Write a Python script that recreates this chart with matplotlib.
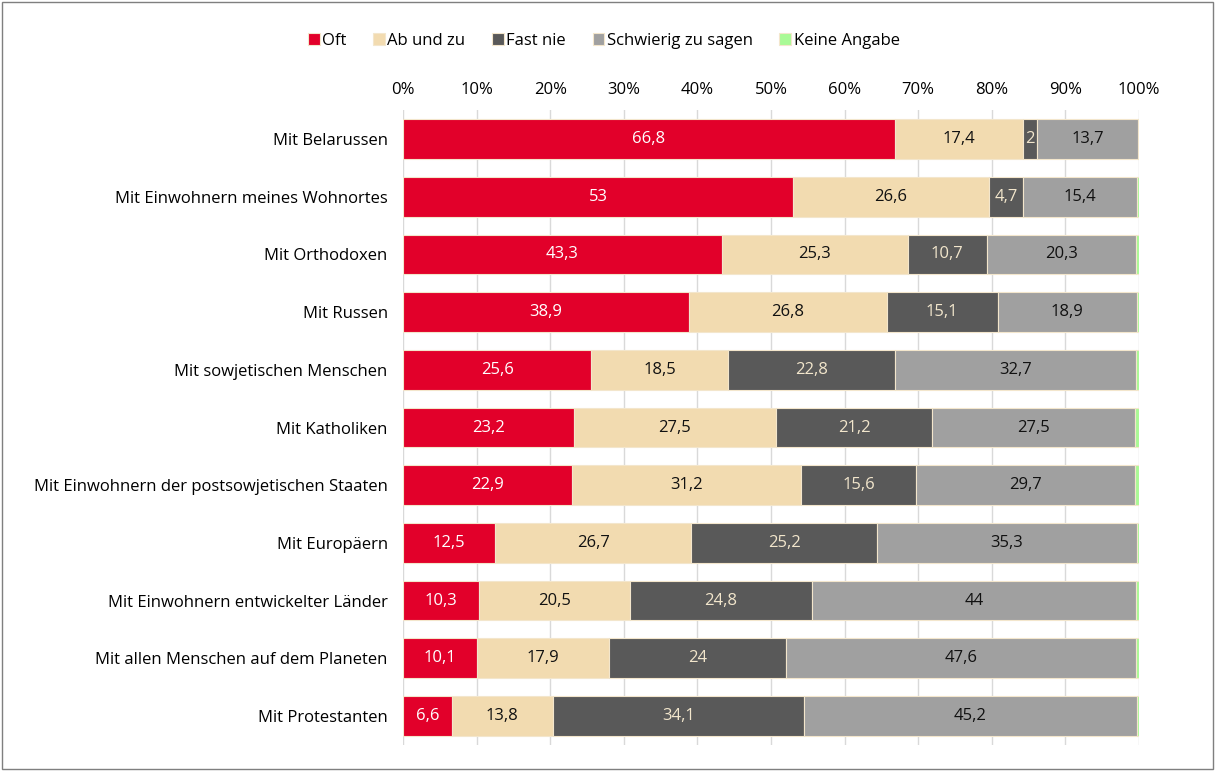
import matplotlib
matplotlib.use('Agg')
import matplotlib.pyplot as plt
from matplotlib.patches import Rectangle

plt.rcParams['font.family'] = ['Open Sans', 'DejaVu Sans']

categories = ['Mit Belarussen', 'Mit Einwohnern meines Wohnortes', 'Mit Orthodoxen',
              'Mit Russen', 'Mit sowjetischen Menschen', 'Mit Katholiken',
              'Mit Einwohnern der postsowjetischen Staaten', 'Mit Europäern',
              'Mit Einwohnern entwickelter Länder', 'Mit allen Menschen auf dem Planeten',
              'Mit Protestanten']
oft = [66.8, 53, 43.3, 38.9, 25.6, 23.2, 22.9, 12.5, 10.3, 10.1, 6.6]
ab_und_zu = [17.4, 26.6, 25.3, 26.8, 18.5, 27.5, 31.2, 26.7, 20.5, 17.9, 13.8]
fast_nie = [2, 4.7, 10.7, 15.1, 22.8, 21.2, 15.6, 25.2, 24.8, 24, 34.1]
schwierig = [13.7, 15.4, 20.3, 18.9, 32.7, 27.5, 29.7, 35.3, 44, 47.6, 45.2]
keine = [0.1, 0.3, 0.4, 0.3, 0.4, 0.6, 0.6, 0.3, 0.4, 0.4, 0.3]

series = [('Oft', oft, '#E2002A', 'white'),
          ('Ab und zu', ab_und_zu, '#F2DBB0', '#111111'),
          ('Fast nie', fast_nie, '#595959', '#F2E6CC'),
          ('Schwierig zu sagen', schwierig, '#A0A0A0', '#111111'),
          ('Keine Angabe', keine, '#A9FA96', None)]

fig = plt.figure(figsize=(12.15, 7.71), dpi=100)
ax = fig.add_axes([0.3317, 0.034, 0.6057, 0.823])

y = list(range(len(categories)))
left = [0.0] * len(categories)
for name, vals, color, tcol in series:
    ax.barh(y, vals, left=left, height=0.69, color=color, label=name,
            edgecolor='#F3E6CC', linewidth=0.8, zorder=3)
    if tcol is not None:
        for i, v in enumerate(vals):
            txt = ('%g' % v).replace('.', ',')
            ax.text(left[i] + v / 2, i, txt, ha='center', va='center',
                    color=tcol, fontsize=12, zorder=4)
    left = [l + v for l, v in zip(left, vals)]

ax.set_ylim(len(categories) - 0.5, -0.5)
ax.set_xlim(0, 100)
ax.set_yticks(y)
ax.set_yticklabels(categories, fontsize=12)
ax.set_xticks(range(0, 101, 10))
ax.set_xticklabels(['%d%%' % t for t in range(0, 101, 10)], fontsize=12)
ax.xaxis.tick_top()
ax.tick_params(axis='y', length=0, pad=11)
ax.tick_params(axis='x', length=0, pad=9)
ax.grid(axis='x', color='#D9D9D9', linewidth=1, zorder=0)
for s in ax.spines.values():
    s.set_visible(False)

ax.legend(loc='center', bbox_to_anchor=(0.497, 0.947), bbox_transform=fig.transFigure,
          ncol=5, frameon=False, fontsize=12, handlelength=0.7, handleheight=0.7,
          handletextpad=0.15, columnspacing=1.6)

fig.patches.append(Rectangle((0.002, 0.003), 0.996, 0.994, transform=fig.transFigure,
                             fill=False, edgecolor='#7F7F7F', linewidth=1))

fig.savefig('out.png', dpi=100)
